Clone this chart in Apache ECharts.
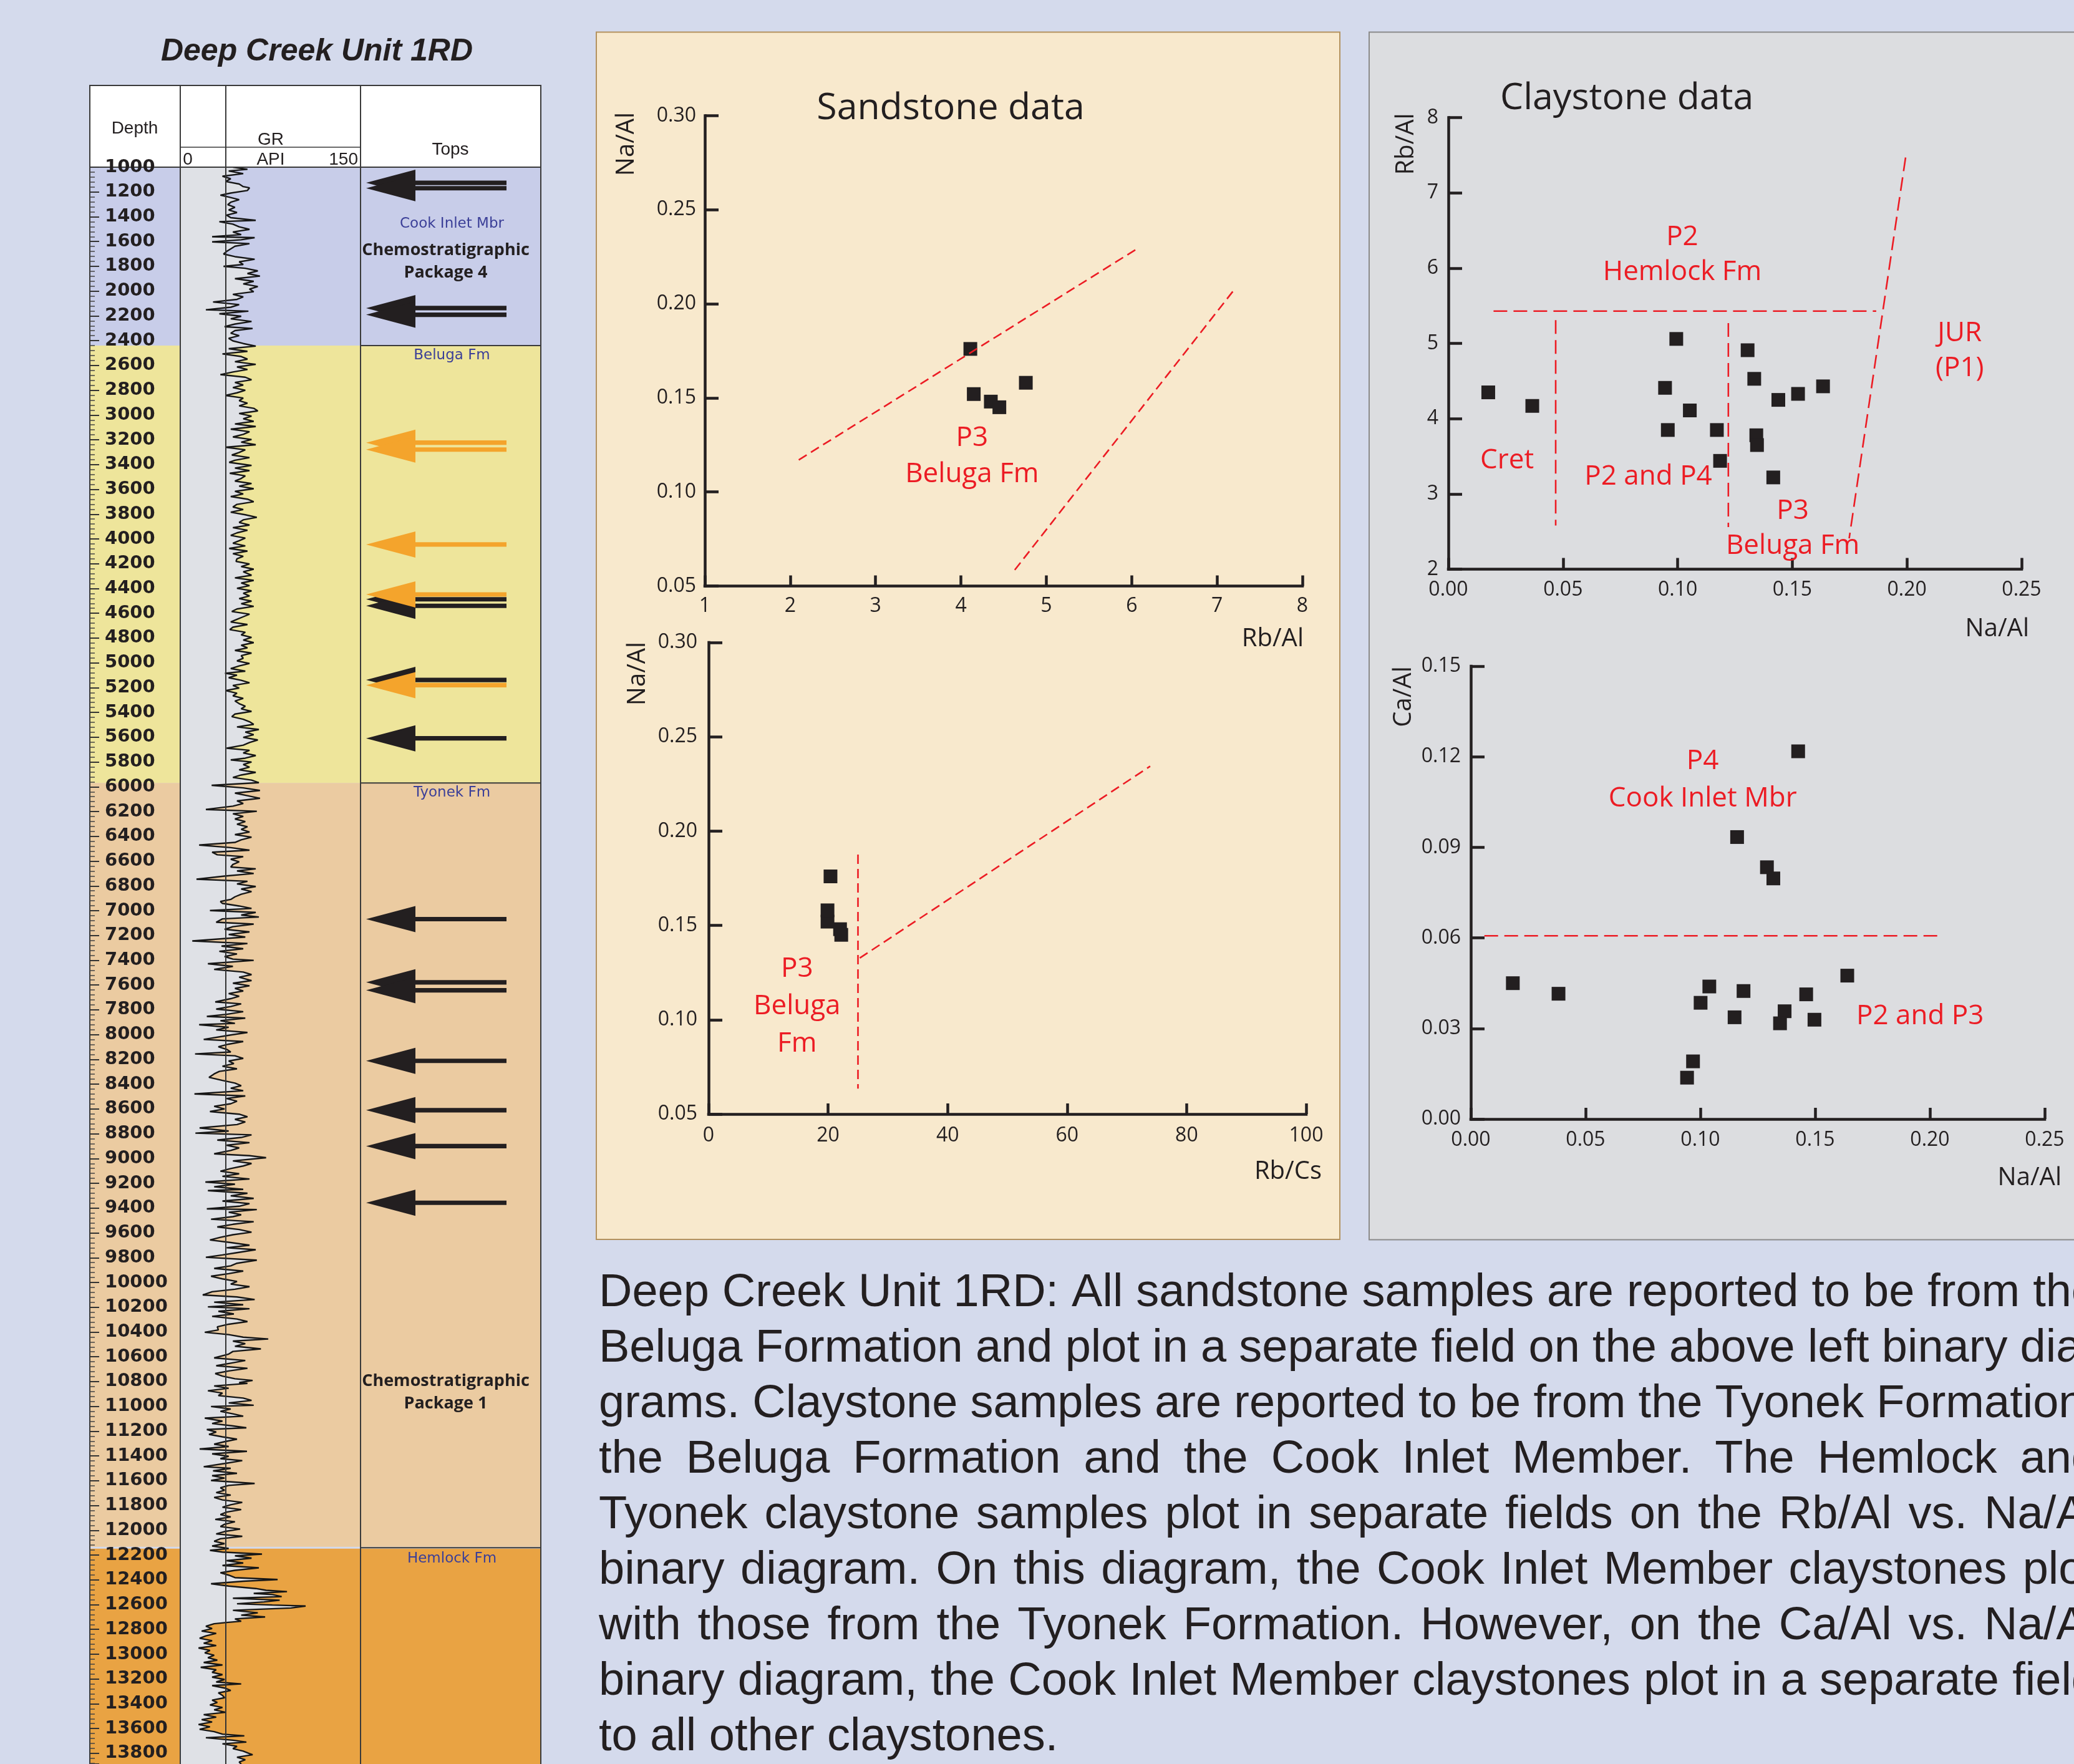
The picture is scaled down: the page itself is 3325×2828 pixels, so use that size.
<!DOCTYPE html>
<html><head><meta charset="utf-8">
<script src="https://cdn.jsdelivr.net/npm/echarts@6/dist/echarts.min.js"></script>
<style>html,body{margin:0;padding:0;background:#d4daec}#c{width:3325px;height:2828px}</style>
</head><body><div id="c"></div>
<script>
// ---------------- DATA ----------------
const logTitle = 'Deep Creek Unit 1RD';
const depthMin = 1000, depthMax = 13886;
const formationNames = ['Cook Inlet Mbr', 'Beluga Fm', 'Tyonek Fm', 'Hemlock Fm'];
const formationTop = [1000, 2440, 5970, 12140];
const formationBase = [2440, 5970, 12140, 13886];
const formationLabelDepth = [1460, 2520, 6049, 12230];
const packageNames = ['Chemostratigraphic\nPackage 4', 'Chemostratigraphic\nPackage 1'];
const packageDepth = [1760, 10888];
const blackTops = [1126, 1170, 2137, 2191, 4487, 4540, 5138, 5609, 7068, 7578, 7642, 8212, 8610, 8900, 9357];
const orangeTops = [3223, 3279, 4045, 4448, 5180];
const grScale = [0, 150];
const grBaseline = 37.5;
// GR log: [depth ft, GR API]
const grLog = [
[1000,43.8],[1017,55.9],[1031,40.3],[1052,52.4],[1073,35.1],[1094,42.0],[1115,37.7],[1136,49.0],[1157,52.4],[1167,57.6],[1188,55.9],[1209,42.0],[1226,33.4],[1241,40.3],[1262,49.0],[1283,42.0],[1303,39.5],[1324,45.5],[1345,40.3],[1366,47.2],[1387,38.6],[1408,42.0],[1429,62.8],[1440,32.5],[1460,43.8],[1481,49.0],[1502,57.6],[1523,43.8],[1544,50.7],[1561,26.5],[1569,61.9],[1586,50.7],[1603,26.5],[1617,57.6],[1638,45.5],[1659,42.0],[1680,38.6],[1701,36.0],[1722,45.5],[1743,61.9],[1764,49.0],[1785,52.4],[1800,36.0],[1816,54.1],[1837,64.5],[1858,55.9],[1879,66.3],[1900,45.5],[1921,61.1],[1942,52.4],[1963,64.5],[1984,57.6],[2005,61.1],[2026,43.8],[2047,52.4],[2067,47.2],[2088,27.3],[2109,49.0],[2130,42.0],[2151,21.3],[2162,56.7],[2183,32.5],[2203,50.7],[2224,42.0],[2245,59.3],[2266,45.5],[2287,36.9],[2302,60.2],[2319,45.5],[2340,42.0],[2360,49.0],[2381,40.3],[2402,43.8],[2423,52.4],[2444,62.8],[2465,40.3],[2486,55.9],[2507,35.1],[2528,50.7],[2549,55.9],[2570,45.5],[2591,62.8],[2612,47.2],[2633,55.9],[2653,43.8],[2674,33.4],[2695,54.1],[2716,59.3],[2737,45.5],[2758,52.4],[2779,43.8],[2800,54.1],[2821,47.2],[2842,37.7],[2863,52.4],[2884,49.0],[2905,55.9],[2926,49.0],[2946,61.1],[2967,64.5],[2988,49.0],[3009,59.3],[3030,52.4],[3051,61.1],[3072,45.5],[3093,62.8],[3114,42.0],[3135,57.6],[3156,52.4],[3177,43.8],[3198,59.3],[3219,50.7],[3240,62.8],[3260,37.7],[3281,54.1],[3302,49.0],[3323,42.9],[3344,57.6],[3365,45.5],[3382,40.7],[3407,59.3],[3428,45.5],[3449,57.6],[3470,41.2],[3491,54.1],[3512,50.7],[3533,45.5],[3553,59.3],[3574,49.0],[3595,61.1],[3616,45.5],[3637,52.4],[3658,42.0],[3679,55.9],[3700,61.1],[3721,47.2],[3742,43.8],[3763,52.4],[3784,42.0],[3805,54.1],[3826,63.7],[3846,52.4],[3867,49.0],[3888,57.6],[3909,43.8],[3930,55.9],[3951,47.2],[3972,42.0],[3993,54.1],[4014,49.0],[4035,43.8],[4056,54.1],[4077,40.7],[4098,55.9],[4119,43.8],[4140,52.4],[4160,47.2],[4181,46.4],[4202,57.6],[4223,50.7],[4244,61.1],[4265,52.4],
[4293,59.3],[4314,45.5],[4335,61.1],[4356,50.7],[4377,57.6],[4398,47.2],[4419,59.3],[4439,52.4],[4460,57.6],[4481,49.0],[4502,59.3],[4523,50.7],[4544,61.1],[4565,47.2],[4586,42.9],[4607,57.6],[4628,52.4],[4649,47.2],[4670,42.0],[4691,55.9],[4712,43.8],[4732,41.2],[4753,54.1],[4774,50.7],[4795,59.3],[4816,52.4],[4837,61.1],[4858,50.7],[4879,55.9],[4900,45.5],[4921,59.3],[4942,50.7],[4963,52.4],[4984,47.2],[5005,57.6],[5025,49.0],[5046,42.0],[5067,54.1],[5084,37.2],[5099,47.2],[5120,40.3],[5141,50.7],[5161,57.6],[5182,43.8],[5203,49.0],[5224,37.7],[5245,47.2],[5266,43.8],[5287,52.4],[5308,45.5],[5329,49.0],[5350,54.1],[5371,50.7],[5392,59.3],[5413,45.5],[5434,42.9],[5455,52.4],[5475,57.6],[5496,61.1],[5517,47.2],[5538,65.4],[5559,54.1],[5580,61.1],[5601,52.4],[5622,64.5],[5643,57.6],[5664,52.4],[5689,38.6],[5706,57.6],[5727,52.4],[5748,62.8],[5769,54.1],[5783,42.0],[5800,59.3],[5821,52.4],[5842,57.6],[5863,49.0],[5884,62.8],[5905,50.7],[5925,43.8],[5946,59.3],[5967,65.4],[5988,26.1],[6009,52.4],[6030,66.3],[6051,45.5],[6072,55.9],[6093,66.3],[6114,47.2],[6135,52.4],[6156,43.8],[6183,21.3],[6198,63.7],[6218,43.8],[6239,52.4],[6260,45.5],[6281,54.1],[6302,47.2],[6323,55.9],[6344,50.7],[6365,57.6],[6386,45.5],[6407,59.3],[6428,50.7],[6449,45.5],[6470,15.7],[6491,42.0],[6512,57.6],[6528,26.5],[6549,30.8],[6564,52.4],[6585,42.0],[6606,49.0],[6627,43.8],[6648,42.0],[6662,62.8],[6679,47.2],[6700,61.1],[6721,36.9],[6746,13.5],[6763,55.9],[6784,47.2],[6805,62.8],[6825,50.7],[6846,59.3],[6867,50.7],[6888,45.5],[6909,42.0],[6926,33.4],[6941,35.1],[6962,49.0],[6982,59.3],[6999,24.7],[7014,62.8],[7035,50.7],[7051,65.4],[7066,35.1],[7093,29.9],[7108,61.1],[7129,43.8],[7150,36.9],[7171,57.6],[7192,40.3],[7213,54.1],[7244,10.0],[7265,55.9],[7286,34.3],[7307,52.4],[7328,32.5],[7349,47.2],[7370,36.9],[7391,43.8],[7401,61.1],[7428,23.0],[7449,43.8],[7474,28.2],[7495,52.4],[7516,59.3],[7537,49.0],
[7564,59.3],[7585,43.8],[7606,57.6],[7627,45.5],[7648,52.4],[7669,40.3],[7690,49.0],[7710,42.0],[7736,29.1],[7752,50.7],[7773,42.0],[7794,29.9],[7815,52.4],[7836,38.6],[7853,22.1],[7867,54.1],[7888,33.4],[7909,45.5],[7920,15.7],[7941,40.3],[7962,29.9],[7983,55.9],[8003,42.0],[8039,19.5],[8056,52.4],[8077,40.3],[8098,31.7],[8119,38.6],[8140,42.0],[8156,12.3],[8171,45.5],[8192,52.4],[8213,40.3],[8234,44.6],[8255,35.1],[8276,47.2],[8297,32.5],[8317,28.2],[8345,23.9],[8370,35.1],[8391,45.5],[8412,50.7],[8433,42.0],[8453,52.4],[8479,11.8],[8495,54.1],[8516,38.6],[8537,47.2],[8558,42.0],[8579,28.2],[8600,36.9],[8621,24.7],[8642,49.0],[8663,55.9],[8684,45.5],[8705,54.1],[8726,47.2],[8753,16.1],[8778,40.3],[8795,12.6],[8809,59.3],[8830,50.7],[8851,30.8],[8872,57.6],[8893,38.6],[8914,49.0],[8935,42.0],[8962,28.2],[8977,57.6],[8993,71.4],[9019,43.8],[9040,59.3],[9060,52.4],[9081,42.0],[9102,33.4],[9123,49.0],[9144,35.1],[9165,57.6],[9190,20.9],[9207,45.5],[9228,28.2],[9249,52.4],[9259,23.0],[9280,55.9],[9301,42.0],[9322,61.1],[9343,35.1],[9364,57.6],[9385,49.0],[9406,22.1],[9412,63.7],[9433,40.3],[9454,50.7],[9469,43.8],[9490,25.6],[9510,61.1],[9531,43.8],[9552,30.8],[9573,49.0],[9594,59.3],[9615,43.8],[9636,33.4],[9657,24.7],[9678,42.0],[9699,57.6],[9720,38.6],[9736,62.8],[9762,45.5],[9778,35.1],[9797,21.3],[9820,63.7],[9845,47.2],[9866,42.0],[9887,28.2],[9908,52.4],[9929,40.3],[9950,25.6],[9971,35.1],[9992,47.2],[10013,42.0],[10034,57.6],[10055,45.5],[10075,26.5],[10101,18.7],[10117,47.2],[10138,61.9],[10159,28.2],[10180,52.4],[10197,23.0],[10212,57.6],[10233,31.7],[10254,44.6],[10274,26.5],[10295,47.2],[10316,55.9],[10337,40.3],[10358,30.8],[10383,31.7],[10402,20.4],[10421,40.3],[10442,52.4],[10456,73.2],[10473,43.8],[10494,54.1],[10515,45.5],[10536,67.1],[10557,43.8],[10578,40.3],[10609,28.2],[10630,54.1],[10651,42.0],[10672,29.9],[10693,55.9],[10714,40.3],[10735,29.1],[10756,35.1],[10777,45.5],[10791,60.2],[10808,49.0],
[10815,55.9],[10835,28.2],[10854,40.3],[10874,23.0],[10893,35.1],[10913,31.7],[10933,52.4],[10952,59.3],[10972,40.3],[10991,61.1],[11001,25.6],[11021,42.0],[11040,33.4],[11060,43.8],[11079,52.4],[11095,20.4],[11119,35.1],[11138,26.5],[11158,43.8],[11173,55.0],[11187,22.1],[11207,29.9],[11226,23.9],[11246,35.1],[11265,47.2],[11285,36.9],[11305,28.2],[11324,40.3],[11344,16.1],[11363,55.5],[11383,26.5],[11403,40.3],[11422,33.4],[11438,51.6],[11461,36.9],[11487,19.5],[11500,42.0],[11520,27.3],[11540,47.2],[11559,26.5],[11579,36.9],[11598,25.6],[11622,61.9],[11638,40.3],[11657,33.4],[11677,36.9],[11696,29.9],[11716,42.0],[11735,28.2],[11755,35.1],[11775,51.6],[11794,42.0],[11814,35.1],[11833,50.7],[11853,38.6],[11873,33.4],[11892,42.0],[11912,29.1],[11931,45.5],[11951,36.9],[11970,33.4],[11990,49.8],[12010,36.9],[12029,29.9],[12049,51.6],[12068,33.4],[12088,28.2],[12108,36.9],[12127,26.5],[12147,40.3],[12162,24.7],[12176,35.1],[12192,68.0],[12206,45.5],[12225,59.3],[12245,38.6],[12264,52.4],[12284,35.1],[12303,65.4],[12323,45.5],[12343,33.4],[12362,40.3],[12382,45.5],[12397,81.0],[12411,52.4],[12431,25.6],[12450,40.3],[12470,62.8],[12484,71.4],[12495,88.8],[12509,61.1],[12519,76.6],[12535,84.4],[12548,43.8],[12564,82.7],[12578,69.7],[12593,47.2],[12603,76.6],[12611,104.3],[12627,92.2],[12646,43.8],[12666,64.5],[12685,50.7],[12699,70.6],[12715,45.5],[12734,50.7],[12744,38.6],[12754,28.2],[12774,21.3],[12793,26.5],[12813,17.8],[12832,29.9],[12852,21.3],[12871,16.1],[12891,26.5],[12911,19.5],[12930,29.9],[12950,15.2],[12969,24.7],[12989,20.4],[13008,28.2],[13028,23.0],[13048,30.8],[13067,19.5],[13087,35.1],[13106,17.0],[13126,29.9],[13146,26.5],[13165,35.1],[13185,26.5],[13204,36.9],[13224,29.9],[13240,50.7],[13253,26.5],[13273,36.9],[13293,42.0],[13312,31.7],[13332,35.1],[13351,36.9],[13371,26.5],[13390,30.8],[13410,24.7],[13430,35.1],[13449,28.2],[13469,37.7],[13488,19.5],[13508,29.9],[13528,17.8],[13547,26.5],[13567,15.2],[13586,24.7],[13606,16.1],[13625,28.2],[13645,35.1],[13659,53.3],[13674,21.3],[13694,43.8],[13709,55.0],[13723,35.1],[13743,47.2],[13762,43.8],[13782,52.4],[13802,57.6],[13811,60.2],[13831,47.2],[13851,54.1],[13870,49.0],[13886,50.7]
];

// Sandstone data
const sandNaAl = [0.176, 0.152, 0.148, 0.145, 0.158];
const sandRbAl = [4.11, 4.15, 4.35, 4.45, 4.76];
const sandRbCs = [20.4, 19.9, 22.0, 22.2, 19.9];
// Claystone data, Rb/Al vs Na/Al
const clayNaAlA = [0.0174, 0.0366, 0.0994, 0.0945, 0.1053, 0.0957, 0.1171, 0.1185, 0.1305, 0.1334, 0.1439, 0.1525, 0.1634, 0.1343, 0.1346, 0.1417];
const clayRbAl  = [4.35, 4.17, 5.06, 4.41, 4.11, 3.85, 3.85, 3.44, 4.91, 4.53, 4.25, 4.33, 4.43, 3.78, 3.65, 3.22];
// Claystone data, Ca/Al vs Na/Al
const clayNaAlB = [0.0183, 0.0382, 0.1426, 0.1160, 0.1290, 0.1318, 0.1039, 0.1001, 0.1188, 0.1149, 0.1367, 0.1347, 0.1461, 0.1497, 0.1640, 0.0968, 0.0942];
const clayCaAl  = [0.0450, 0.0415, 0.1218, 0.0934, 0.0834, 0.0797, 0.0439, 0.0385, 0.0424, 0.0337, 0.0357, 0.0317, 0.0413, 0.0329, 0.0475, 0.0191, 0.0137];

// Field boundaries (data units)
const sandTopBounds = [[[2.10, 0.117], [6.09, 0.230]], [[4.63, 0.0585], [7.22, 0.2086]]];
const sandBotBounds = [[[25, 0.1876], [25, 0.0635]], [[25.3, 0.1327], [73.9, 0.2344]]];
const clayTopBounds = [[[0.0197, 5.43], [0.1866, 5.43]], [[0.0468, 5.31], [0.0468, 2.58]], [[0.1221, 5.27], [0.1221, 2.56]], [[0.1994, 7.47], [0.1748, 2.41]]];
const clayBotBounds = [[[0.0059, 0.0607], [0.2052, 0.0607]]];

// Field labels (anchored in data units)
const sandTopNotes = [{text: 'P3\nBeluga Fm', x: 4.13, y: 0.119}];
const sandBotNotes = [{text: 'P3\nBeluga\nFm', x: 14.8, y: 0.107}];
const clayTopNotes = [
  {text: 'P2\nHemlock Fm', x: 0.102, y: 6.18},
  {text: 'JUR\n(P1)', x: 0.223, y: 4.90},
  {text: 'Cret', x: 0.0256, y: 3.44},
  {text: 'P2 and P4', x: 0.0872, y: 3.23},
  {text: 'P3\nBeluga Fm', x: 0.1502, y: 2.54}
];
const clayBotNotes = [
  {text: 'P4\nCook Inlet Mbr', x: 0.101, y: 0.1122},
  {text: 'P2 and P3', x: 0.1957, y: 0.034}
];

const paragraphLines = [
  'Deep Creek Unit 1RD: All sandstone samples are reported to be from the',
  'Beluga Formation and plot in a separate field on the above left binary dia-',
  'grams. Claystone samples are reported to be from the Tyonek Formation,',
  'the Beluga Formation and the Cook Inlet Member. The Hemlock and',
  'Tyonek claystone samples plot in separate fields on the Rb/Al vs. Na/Al',
  'binary diagram. On this diagram, the Cook Inlet Member claystones plot',
  'with those from the Tyonek Formation. However, on the Ca/Al vs. Na/Al',
  'binary diagram, the Cook Inlet Member claystones plot in a separate field',
  'to all other claystones.'
];

// ---------------- STYLE ----------------
const INK = '#231f20';
const RED = '#ec1c24';
const BLUE = '#3b3f98';
const formationColors = ['#c8cde9', '#eee59b', '#ebcba1', '#e9a343'];
const trackGray = '#dfe1e6';
const ORANGE = '#f4a42c';
const SANS = '"Open Sans"';

const chart = echarts.init(document.getElementById('c'), null, {renderer: 'canvas', width: 3325, height: 2828});

function hiddenAxis(g, min, max, inverse) {
  return {type: 'value', gridIndex: g, min, max, inverse: !!inverse, show: false};
}
function sciAxis(g, min, max, interval, margin, tickLen, dec) {
  return {
    type: 'value', gridIndex: g, min, max, interval, z: 5,
    axisLine: {show: true, onZero: false, lineStyle: {color: INK, width: 4.5, cap: 'square'}},
    axisTick: {show: true, inside: true, length: tickLen, lineStyle: {color: INK, width: 4.5}},
    axisLabel: {margin, color: INK, fontSize: 32, fontFamily: SANS, showMinLabel: true, showMaxLabel: true,
      formatter: v => dec ? v.toFixed(dec) : String(Math.round(v))},
    splitLine: {show: false}
  };
}
function bandSeries(g) {
  return {
    type: 'custom', xAxisIndex: g, yAxisIndex: g, z: 1, silent: true,
    data: formationTop.map((t, i) => [0, t]),
    renderItem: (params, api) => {
      const i = params.dataIndex, cs = params.coordSys;
      const y0 = api.coord([0, formationTop[i]])[1];
      const y1 = api.coord([0, formationBase[i]])[1];
      const children = [{type: 'rect', shape: {x: cs.x, y: y0, width: cs.width, height: y1 - y0}, style: {fill: formationColors[i]}}];
      if (i === 3) children.push({type: 'line', shape: {x1: cs.x, y1: y0, x2: cs.x + cs.width, y2: y0}, style: {stroke: '#d4daec', lineWidth: 3}});
      return {type: 'group', children};
    }
  };
}
function arrowSeries(list, color, z) {
  return {
    type: 'custom', xAxisIndex: 2, yAxisIndex: 2, z, silent: true,
    data: list.map(d => [0.5, d]),
    renderItem: (params, api) => {
      const cs = params.coordSys;
      const y = api.coord([0.5, api.value(1)])[1];
      const tip = cs.x + 9, base = cs.x + 88, end = cs.x + 234;
      return {type: 'group', children: [
        {type: 'rect', shape: {x: base - 2, y: y - 3.6, width: end - base + 2, height: 7.2}, style: {fill: color}},
        {type: 'polygon', shape: {points: [[tip, y], [base, y - 21], [base, y + 21]]}, style: {fill: color}}
      ]};
    }
  };
}
function dashSeries(g, bounds, dash) {
  return bounds.map(seg => ({
    type: 'line', xAxisIndex: g, yAxisIndex: g, data: seg, symbol: 'none', showSymbol: false, silent: true, z: 6,
    lineStyle: {color: RED, width: 2.6, type: dash}
  }));
}
function scatterSeries(g, xs, ys) {
  return {type: 'scatter', xAxisIndex: g, yAxisIndex: g, symbol: 'rect', symbolSize: 22, z: 4, silent: true,
    itemStyle: {color: INK, opacity: 1}, data: xs.map((x, i) => [x, ys[i]])};
}
function notesSeries(g, notes, lh) {
  return {
    type: 'custom', xAxisIndex: g, yAxisIndex: g, z: 7, silent: true,
    data: notes.map(n => [n.x, n.y]),
    renderItem: (params, api) => {
      const p = api.coord([api.value(0), api.value(1)]);
      return {type: 'text', x: p[0], y: p[1], style: {text: notes[params.dataIndex].text, fill: RED,
        font: '44px ' + SANS, align: 'center', verticalAlign: 'middle', lineHeight: lh}};
    }
  };
}

// paragraph (justified)
const measureCtx = document.createElement('canvas').getContext('2d');
const paraFont = '74px "Liberation Sans"';
measureCtx.font = paraFont;
const paraL = 960, paraR = 3362, paraY0 = 2074, paraLH = 89;
const paraEls = [];
paragraphLines.forEach((line, li) => {
  const y = paraY0 + li * paraLH;
  const words = line.split(' ');
  const last = li === paragraphLines.length - 1;
  const spaceW = measureCtx.measureText(' ').width;
  const widths = words.map(w => measureCtx.measureText(w).width);
  const sum = widths.reduce((a, b) => a + b, 0);
  let gap = last ? spaceW : Math.max(spaceW * 0.85, (paraR - paraL - sum) / (words.length - 1));
  let x = paraL;
  words.forEach((w, wi) => {
    paraEls.push({type: 'text', x, y, z: 50, silent: true, style: {text: w, font: paraFont, fill: INK, align: 'left', verticalAlign: 'middle'}});
    x += widths[wi] + gap;
  });
});

function txt(text, x, y, font, fill, align, extra) {
  return Object.assign({type: 'text', x, y, z: 60, silent: true, style: {text, font, fill: fill || INK, align: align || 'center', verticalAlign: 'middle'}}, extra || {});
}
const frame = {stroke: '#3a3a3a', lineWidth: 2};

const option = {
  backgroundColor: '#d4daec',
  animation: false,
  grid: [
    {left: 144, top: 268, width: 145, height: 2560},
    {left: 289, top: 268, width: 289, height: 2560},
    {left: 578, top: 268, width: 289, height: 2560},
    {left: 1130, top: 185.4, width: 958, height: 754},
    {left: 1136, top: 1030, width: 958, height: 756},
    {left: 2322, top: 188.6, width: 919, height: 724},
    {left: 2358, top: 1068, width: 920, height: 726}
  ].map(g => Object.assign(g, {containLabel: false, outerBoundsMode: 'none', show: false})),
  xAxis: [
    hiddenAxis(0, 0, 1),
    hiddenAxis(1, grScale[0], grScale[1]),
    hiddenAxis(2, 0, 1),
    sciAxis(3, 1, 8, 1, 16, 17, 0),
    sciAxis(4, 0, 100, 20, 19, 17, 0),
    sciAxis(5, 0, 0.25, 0.05, 17, 18, 2),
    sciAxis(6, 0, 0.25, 0.05, 18, 18, 2)
  ],
  yAxis: [
    {
      type: 'value', gridIndex: 0, min: depthMin, max: depthMax, interval: 200, inverse: true, position: 'left', z: 80,
      axisLine: {show: false},
      axisTick: {show: true, inside: true, length: 15, lineStyle: {color: '#333', width: 2}},
      minorTick: {show: true, splitNumber: 5, length: 8, lineStyle: {color: '#444', width: 1.5}},
      axisLabel: {inside: true, margin: 24, color: INK, fontSize: 29, fontWeight: 'bold', fontFamily: '"DejaVu Sans"',
        showMinLabel: true, showMaxLabel: false, formatter: v => (v % 200 === 0 ? String(v) : '')},
      splitLine: {show: false}
    },
    hiddenAxis(1, depthMin, depthMax, true),
    hiddenAxis(2, depthMin, depthMax, true),
    sciAxis(3, 0.05, 0.30, 0.05, 14, 22, 2),
    sciAxis(4, 0.05, 0.30, 0.05, 18, 22, 2),
    sciAxis(5, 2, 8, 1, 16, 22, 0),
    sciAxis(6, 0, 0.15, 0.03, 16, 22, 2)
  ],
  series: [
    bandSeries(0), bandSeries(1), bandSeries(2),
    {
      type: 'custom', xAxisIndex: 1, yAxisIndex: 1, z: 2, silent: true, data: [[0, depthMin]],
      renderItem: (params, api) => {
        const pts = [api.coord([0, grLog[0][0]])];
        grLog.forEach(d => pts.push(api.coord([d[1], d[0]])));
        pts.push(api.coord([0, grLog[grLog.length - 1][0]]));
        return {type: 'polygon', shape: {points: pts}, style: {fill: trackGray}};
      }
    },
    {
      type: 'line', xAxisIndex: 1, yAxisIndex: 1, z: 4, silent: true, symbol: 'none', showSymbol: false,
      data: grLog.map(d => [d[1], d[0]]),
      lineStyle: {color: '#161616', width: 2.4},
      markLine: {silent: true, symbol: 'none', label: {show: false}, lineStyle: {color: '#333', width: 2, type: 'solid'},
        data: [{xAxis: grBaseline}]}
    },
    {
      type: 'custom', xAxisIndex: 2, yAxisIndex: 2, z: 3, silent: true,
      data: formationTop.slice(1).map(t => [0, t]),
      renderItem: (params, api) => {
        const cs = params.coordSys, y = api.coord([0, api.value(1)])[1];
        return {type: 'line', shape: {x1: cs.x, y1: y, x2: cs.x + cs.width, y2: y}, style: {stroke: '#3a3a3a', lineWidth: 2}};
      }
    },
    arrowSeries(blackTops, INK, 4),
    arrowSeries(orangeTops, ORANGE, 5),
    {
      type: 'custom', xAxisIndex: 2, yAxisIndex: 2, z: 6, silent: true,
      data: formationLabelDepth.map(d => [0.5, d]),
      renderItem: (params, api) => {
        const p = api.coord([0.5, api.value(1)]);
        return {type: 'text', x: p[0] + 2, y: p[1], style: {text: formationNames[params.dataIndex], fill: BLUE,
          font: '23px "DejaVu Sans"', align: 'center', verticalAlign: 'middle'}};
      }
    },
    {
      type: 'custom', xAxisIndex: 2, yAxisIndex: 2, z: 6, silent: true,
      data: packageDepth.map(d => [0.5, d]),
      renderItem: (params, api) => {
        const p = api.coord([0.5, api.value(1)]);
        return {type: 'text', x: p[0] - 8, y: p[1], style: {text: packageNames[params.dataIndex], fill: INK,
          font: 'bold 27px "Open Sans"', align: 'center', verticalAlign: 'middle', lineHeight: 36}};
      }
    },
    ...dashSeries(3, sandTopBounds, [15, 8]),
    ...dashSeries(4, sandBotBounds, [15, 8]),
    ...dashSeries(5, clayTopBounds, [22, 10]),
    ...dashSeries(6, clayBotBounds, [22, 10]),
    scatterSeries(3, sandRbAl, sandNaAl),
    scatterSeries(4, sandRbCs, sandNaAl),
    scatterSeries(5, clayNaAlA, clayRbAl),
    scatterSeries(6, clayNaAlB, clayCaAl),
    notesSeries(3, sandTopNotes, 58),
    notesSeries(4, sandBotNotes, 60),
    notesSeries(5, clayTopNotes, 56),
    notesSeries(6, clayBotNotes, 60)
  ],
  graphic: {elements: [
    // panels
    {type: 'rect', z: -5, silent: true, shape: {x: 956, y: 51.5, width: 1192, height: 1935.5}, style: {fill: '#f8e9cd', stroke: '#b3925f', lineWidth: 2}},
    {type: 'rect', z: -5, silent: true, shape: {x: 2195, y: 51.5, width: 1200, height: 1936}, style: {fill: '#dcdde0', stroke: '#8a8a8a', lineWidth: 2}},
    // log table header & frame
    {type: 'rect', z: 40, silent: true, shape: {x: 144, y: 137, width: 723, height: 131}, style: {fill: '#ffffff'}},
    {type: 'rect', z: 45, silent: true, shape: {x: 144, y: 137, width: 723, height: 2720}, style: {fill: null, stroke: '#3a3a3a', lineWidth: 2}},
    {type: 'line', z: 45, silent: true, shape: {x1: 289, y1: 137, x2: 289, y2: 2830}, style: frame},
    {type: 'line', z: 45, silent: true, shape: {x1: 362, y1: 137, x2: 362, y2: 268}, style: frame},
    {type: 'line', z: 45, silent: true, shape: {x1: 578, y1: 137, x2: 578, y2: 2830}, style: frame},
    {type: 'line', z: 45, silent: true, shape: {x1: 144, y1: 268, x2: 867, y2: 268}, style: frame},
    {type: 'line', z: 45, silent: true, shape: {x1: 289, y1: 236, x2: 578, y2: 236}, style: {stroke: '#3a3a3a', lineWidth: 1.5}},
    txt(logTitle, 508, 83, 'italic bold 50px "Liberation Sans"'),
    txt('Depth', 216, 206, '28px "Liberation Sans"'),
    txt('GR', 434, 224, '28px "Liberation Sans"'),
    txt('0', 301, 256, '28px "Liberation Sans"'),
    txt('API', 434, 256, '28px "Liberation Sans"'),
    txt('150', 574, 256, '28px "Liberation Sans"', INK, 'right'),
    txt('Tops', 722, 240, '28px "Liberation Sans"'),
    // chart titles & axis names
    txt('Sandstone data', 1524, 174, '59px ' + SANS),
    txt('Claystone data', 2405, 158, '59px ' + SANS, INK, 'left'),
    txt('Na/Al', 1005, 231, '40px ' + SANS, INK, 'center', {rotation: Math.PI / 2}),
    txt('Rb/Al', 2090, 1025, '40px ' + SANS, INK, 'right'),
    txt('Na/Al', 1023, 1080, '40px ' + SANS, INK, 'center', {rotation: Math.PI / 2}),
    txt('Rb/Cs', 2119, 1879, '40px ' + SANS, INK, 'right'),
    txt('Rb/Al', 2255, 231, '40px ' + SANS, INK, 'center', {rotation: Math.PI / 2}),
    txt('Na/Al', 3253, 1009, '40px ' + SANS, INK, 'right'),
    txt('Ca/Al', 2251, 1117, '40px ' + SANS, INK, 'center', {rotation: Math.PI / 2}),
    txt('Na/Al', 3305, 1889, '40px ' + SANS, INK, 'right'),
    ...paraEls
  ]}
};
chart.setOption(option);
</script>
</body></html>
